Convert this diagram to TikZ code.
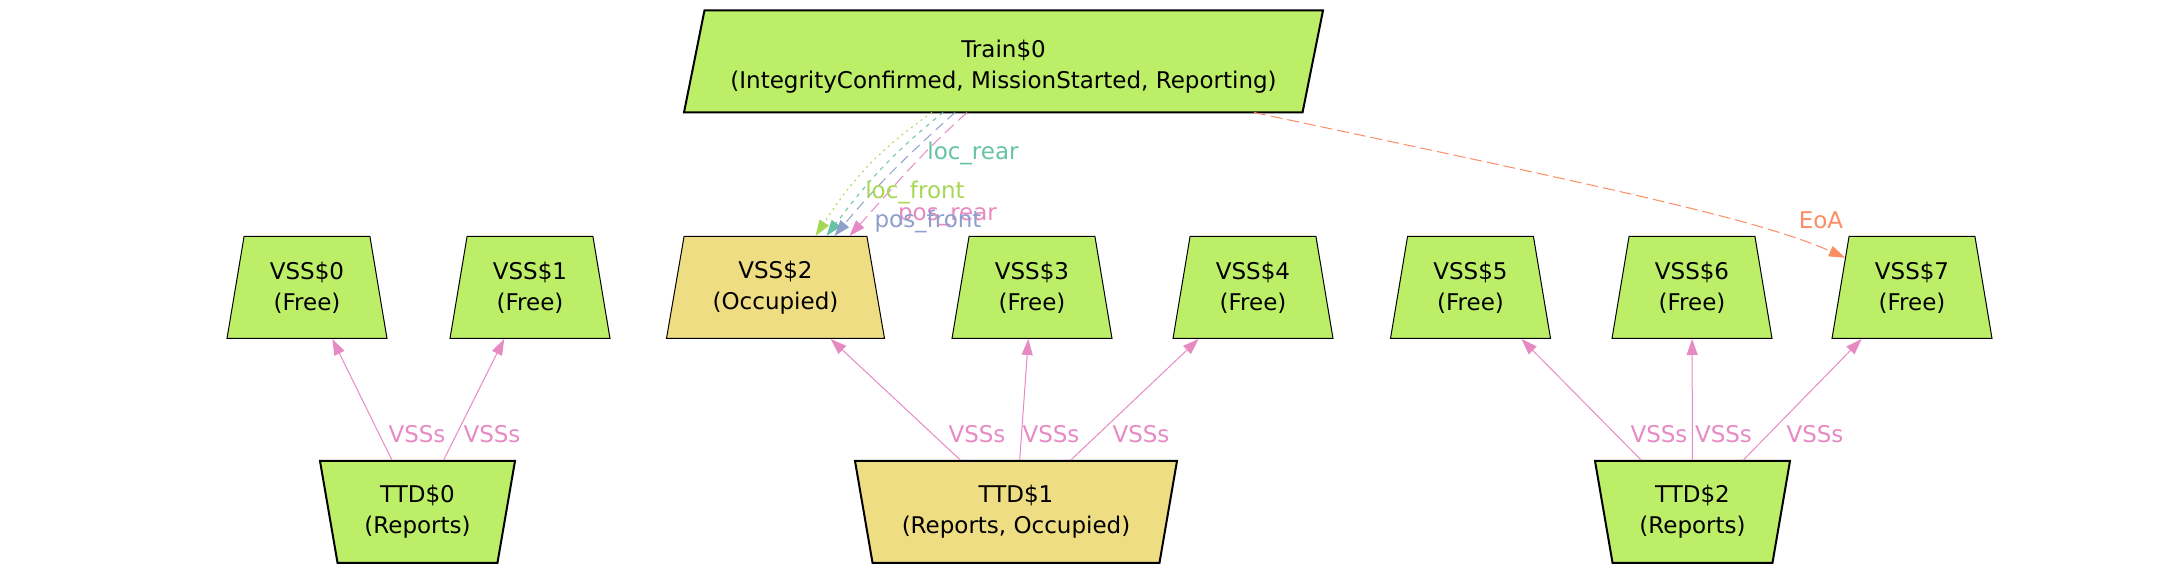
\documentclass[tikz,border=0pt]{standalone}
\usepackage{fontspec}
\setmainfont{DejaVu Sans}
\usetikzlibrary{shapes.geometric,arrows.meta}

\definecolor{freegreen}{HTML}{BCEE68}
\definecolor{busyyellow}{HTML}{EEDD82}
\definecolor{setteal}{HTML}{66C2A5}
\definecolor{setorange}{HTML}{FC8D62}
\definecolor{setblue}{HTML}{8DA0CB}
\definecolor{setpink}{HTML}{E78AC3}
\definecolor{setgreen}{HTML}{A6D854}

\begin{document}
\begin{tikzpicture}[x=0.5pt, y=-0.5pt,
  every node/.style={font=\fontsize{11.5pt}{15.5pt}\selectfont, align=center},
  vss/.style={draw, line width=0.5pt, fill=freegreen, trapezium, trapezium angle=74,
    trapezium stretches body, minimum height=51pt, minimum width=80pt, inner sep=2pt},
  ttd/.style={vss, shape border rotate=180, line width=1pt, minimum width=97.5pt},
  train/.style={draw, line width=1pt, fill=freegreen, trapezium, trapezium left angle=74,
    trapezium right angle=106, trapezium stretches body, minimum height=51pt,
    minimum width=319.5pt, inner sep=2pt},
  busy/.style={fill=busyyellow},
  elabel/.style={anchor=base, inner sep=0pt},
  tip/.style={-{Triangle[length=8pt,width=5.5pt]}, line width=0.5pt},
  vssedge/.style={tip, setpink}]
  \useasboundingbox (0,0) rectangle (2160,576);
  % Train
  \node[train] (train) at (1003.5,61.5)
    {\rule{0pt}{13.8pt}Train\$0\\(IntegrityConfirmed, MissionStarted, Reporting)};
  % VSS row
  \node[vss] (v0) at (307,287.5) {VSS\$0\\(Free)};
  \node[vss] (v1) at (530,287.5) {VSS\$1\\(Free)};
  \node[vss, busy, minimum width=109pt] (v2) at (775.5,287.5) {VSS\$2\\(Occupied)};
  \node[vss] (v3) at (1032,287.5) {VSS\$3\\(Free)};
  \node[vss] (v4) at (1253,287.5) {VSS\$4\\(Free)};
  \node[vss] (v5) at (1470.5,287.5) {VSS\$5\\(Free)};
  \node[vss] (v6) at (1692,287.5) {VSS\$6\\(Free)};
  \node[vss] (v7) at (1912,287.5) {VSS\$7\\(Free)};
  % TTD row
  \node[ttd] (t0) at (417.5,512) {TTD\$0\\(Reports)};
  \node[ttd, busy, minimum width=161pt] (t1) at (1016,512) {TTD\$1\\(Reports, Occupied)};
  \node[ttd] (t2) at (1692.5,512) {TTD\$2\\(Reports)};
  % TTD to VSS
  \draw[vssedge] (t0) -- (v0);
  \draw[vssedge] (t0) -- (v1);
  \draw[vssedge] (t1) -- (v2);
  \draw[vssedge] (t1) -- (v3);
  \draw[vssedge] (t1) -- (v4);
  \draw[vssedge] (t2) -- (v5);
  \draw[vssedge] (t2) -- (v6);
  \draw[vssedge] (t2) -- (v7);
  \node[elabel, text=setpink] (s00) at (417,443) {VSSs};
  \node[elabel, text=setpink] (s01) at (492,443) {VSSs};
  \node[elabel, text=setpink] (s12) at (977,443) {VSSs};
  \node[elabel, text=setpink] (s13) at (1051,443) {VSSs};
  \node[elabel, text=setpink] (s14) at (1141,443) {VSSs};
  \node[elabel, text=setpink] (s25) at (1659,443) {VSSs};
  \node[elabel, text=setpink] (s26) at (1723.5,443) {VSSs};
  \node[elabel, text=setpink] (s27) at (1815,443) {VSSs};
  % Train to VSS$2
  \draw[tip, setgreen, dash pattern=on 1pt off 2pt]
    ([shift={(-71.5,51)}]train.center) to[out=-145, in=57] ([xshift=20pt]v2.north);
  \draw[tip, setteal, dash pattern=on 2pt off 2.5pt]
    ([shift={(-60.5,51)}]train.center) to[out=-141, in=53] ([xshift=25.5pt]v2.north);
  \draw[tip, setblue, dash pattern=on 5pt off 3pt]
    ([shift={(-48.5,51)}]train.center) to[out=-138, in=50] ([xshift=29.5pt]v2.north);
  \draw[tip, setpink, dash pattern=on 6pt off 3pt]
    ([shift={(-36.5,51)}]train.center) to[out=-138, in=48] ([xshift=37pt]v2.north);
  \node[elabel, text=setteal] (lrear) at (973,160) {loc\_rear};
  \node[elabel, text=setgreen] (lfront) at (915,199) {loc\_front};
  \node[elabel, text=setpink] (prear) at (947.5,220.5) {pos\_rear};
  \node[elabel, text=setblue] (pfront) at (928,228) {pos\_front};
  % End of authority
  \draw[tip, setorange, dash pattern=on 6pt off 2.5pt]
    ([shift={(250.5,51)}]train.center) to[out=-12, in=156, out looseness=1.5, in looseness=0.4] (v7);
  \node[elabel, text=setorange] (eoa) at (1821,229) {EoA};
\end{tikzpicture}
\end{document}
